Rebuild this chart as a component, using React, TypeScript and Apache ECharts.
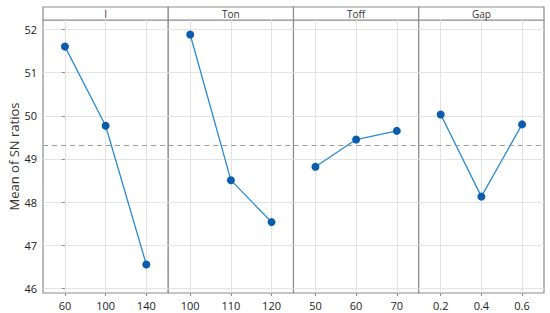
import React, { useEffect, useRef } from "react";
import * as echarts from "echarts";

const factors = ["I", "Ton", "Toff", "Gap"];
const levelsI = ["60", "100", "140"];
const levelsTon = ["100", "110", "120"];
const levelsToff = ["50", "60", "70"];
const levelsGap = ["0.2", "0.4", "0.6"];
const meansI = [51.6, 49.77, 46.56];
const meansTon = [51.88, 48.51, 47.54];
const meansToff = [48.82, 49.45, 49.65];
const meansGap = [50.03, 48.13, 49.8];
const grandMean = 49.32;
const yTicks = [46, 47, 48, 49, 50, 51, 52];

export default function App() {
  const ref = useRef<HTMLDivElement>(null);
  useEffect(() => {
    if (!ref.current) return;
    const chart = echarts.init(ref.current, null, { renderer: "svg" });
    const levels = [levelsI, levelsTon, levelsToff, levelsGap];
    const means = [meansI, meansTon, meansToff, meansGap];
    const plotLeft = 43;
    const plotRight = 544;
    const plotTop = 20;
    const plotBottom = 293;
    const headerTop = 7;
    const pw = (plotRight - plotLeft) / 4;
    const font = "'Open Sans', 'Noto Sans', sans-serif";

    const grids: any[] = [];
    const xAxes: any[] = [];
    const yAxes: any[] = [];
    const series: any[] = [];
    const graphics: any[] = [];

    for (let i = 0; i < 4; i++) {
      const left = plotLeft + i * pw;
      grids.push({
        left,
        width: pw,
        top: plotTop,
        height: plotBottom - plotTop,
        show: true,
        borderColor: "#8c8c8c",
        borderWidth: 1.2,
        backgroundColor: "#fff",
      });
      const lv = levels[i];
      xAxes.push({
        type: "value",
        gridIndex: i,
        min: -0.54,
        max: 2.54,
        axisLine: { show: false },
        axisTick: { show: true, customValues: [0, 1, 2], length: 3, lineStyle: { color: "#8c8c8c" } },
        axisLabel: {
          customValues: [0, 1, 2],
          formatter: (v: number) => lv[Math.round(v)],
          color: "#222",
          fontSize: 11,
          fontFamily: font,
          margin: 7,
        },
        splitLine: { show: true, lineStyle: { color: "#e3e3e3", width: 1 } },
      });
      yAxes.push({
        type: "value",
        gridIndex: i,
        min: 45.9,
        max: 52.215,
        name: i === 0 ? "Mean of SN ratios" : "",
        nameLocation: "middle",
        nameGap: 22,
        nameTextStyle: { fontSize: 13, color: "#333", fontFamily: font },
        axisLine: { show: false },
        axisTick: { show: i === 0, customValues: yTicks, length: 3, lineStyle: { color: "#8c8c8c" } },
        axisLabel: {
          show: i === 0,
          customValues: yTicks,
          color: "#222",
          fontSize: 11,
          fontFamily: font,
          margin: 6,
        },
        splitLine: { show: true, lineStyle: { color: "#e3e3e3", width: 1 } },
      });
      series.push({
        type: "line",
        xAxisIndex: i,
        yAxisIndex: i,
        data: means[i].map((v, k) => [k, v]),
        symbol: "circle",
        symbolSize: 8,
        lineStyle: { color: "#2a8ad4", width: 1.3 },
        itemStyle: { color: "#0b5cad" },
        markLine: {
          silent: true,
          symbol: "none",
          label: { show: false },
          lineStyle: { color: "#9a9a9a", type: [5, 4], width: 1.2 },
          data: [{ yAxis: grandMean }],
        },
        z: 3,
      });
      graphics.push({
        type: "rect",
        shape: { x: left, y: headerTop, width: pw, height: plotTop - headerTop },
        style: { fill: "#fff", stroke: "#8c8c8c", lineWidth: 1.2 },
      });
      graphics.push({
        type: "text",
        x: left + pw / 2,
        y: headerTop + (plotTop - headerTop) / 2 + 0.5,
        style: {
          text: factors[i],
          fill: "#333",
          fontSize: 10,
          fontFamily: font,
          align: "center",
          verticalAlign: "middle",
        },
      });
    }

    chart.setOption({
      animation: false,
      backgroundColor: "#fff",
      grid: grids,
      xAxis: xAxes,
      yAxis: yAxes,
      series,
      graphic: graphics,
    });
    return () => chart.dispose();
  }, []);
  return (
    <div
      ref={ref}
      style={{ position: "fixed", left: 0, top: 0, width: 550, height: 313 }}
    />
  );
}
